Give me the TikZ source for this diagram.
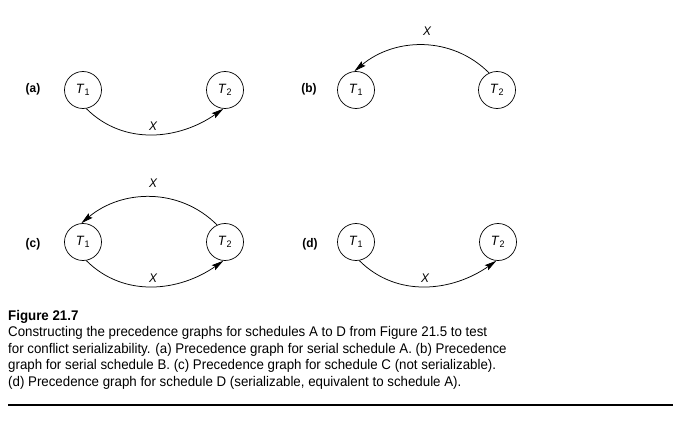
\documentclass[tikz,border=0pt]{standalone}
\usepackage{fontspec}
\setmainfont{Liberation Sans}[FakeStretch=0.95]
\usetikzlibrary{arrows.meta}

\begin{document}
\begin{tikzpicture}[x=1pt,y=-1pt,
  txn/.style={draw, circle, minimum size=37pt, inner sep=0pt, line width=0.7pt,
    font=\fontsize{13.5}{15}\selectfont},
  tag/.style={font=\bfseries\fontsize{12.5}{14}\selectfont},
  conflict/.style={line width=0.75pt, -{Stealth[length=12pt,width=6pt,inset=2pt]}},
  item/.style={font=\itshape\fontsize{12.5}{14}\selectfont}]

\useasboundingbox (0,0) rectangle (689,428);

% (a) serial schedule A
\node[tag] (tagA) at (33,89) {(a)};
\node[txn] (a1) at (83,90) {\textit{T}\textsubscript{1}};
\node[txn] (a2) at (225,90) {\textit{T}\textsubscript{2}};
\draw[conflict] (a1.-80) to[out=-45,in=-145] (a2.-95);
\node[item] (xa) at (153,126) {X};

% (b) serial schedule B
\node[tag] (tagB) at (309,89) {(b)};
\node[txn] (b1) at (356,90) {\textit{T}\textsubscript{1}};
\node[txn] (b2) at (497,90) {\textit{T}\textsubscript{2}};
\draw[conflict] (b2.115) to[out=135,in=40] (b1.95);
\node[item] (xb) at (427,31) {X};

% (c) schedule C, cycle
\node[tag] (tagC) at (33,244) {(c)};
\node[txn] (c1) at (83,242) {\textit{T}\textsubscript{1}};
\node[txn] (c2) at (225,242) {\textit{T}\textsubscript{2}};
\draw[conflict] (c2.115) to[out=135,in=40] (c1.95);
\draw[conflict] (c1.-80) to[out=-45,in=-145] (c2.-95);
\node[item] (xc1) at (153,183) {X};
\node[item] (xc2) at (153,278) {X};

% (d) schedule D
\node[tag] (tagD) at (310,244) {(d)};
\node[txn] (d1) at (356,242) {\textit{T}\textsubscript{1}};
\node[txn] (d2) at (498,242) {\textit{T}\textsubscript{2}};
\draw[conflict] (d1.-80) to[out=-45,in=-145] (d2.-95);
\node[item] (xd) at (425,278) {X};

% caption
\node[anchor=north west, inner sep=0pt, align=left,
  font=\fontsize{14}{16.5}\selectfont] (cap) at (8,310)
  {\textbf{Figure 21.7}\\
   Constructing the precedence graphs for schedules A to D from Figure 21.5 to test\\
   for conflict serializability. (a) Precedence graph for serial schedule A. (b) Precedence\\
   graph for serial schedule B. (c) Precedence graph for schedule C (not serializable).\\
   (d) Precedence graph for schedule D (serializable, equivalent to schedule A).};
\coordinate (ruleL) at (8,405);
\coordinate (ruleR) at (673,405);
\draw[line width=1.3pt] (ruleL) -- (ruleR);
\end{tikzpicture}
\end{document}
